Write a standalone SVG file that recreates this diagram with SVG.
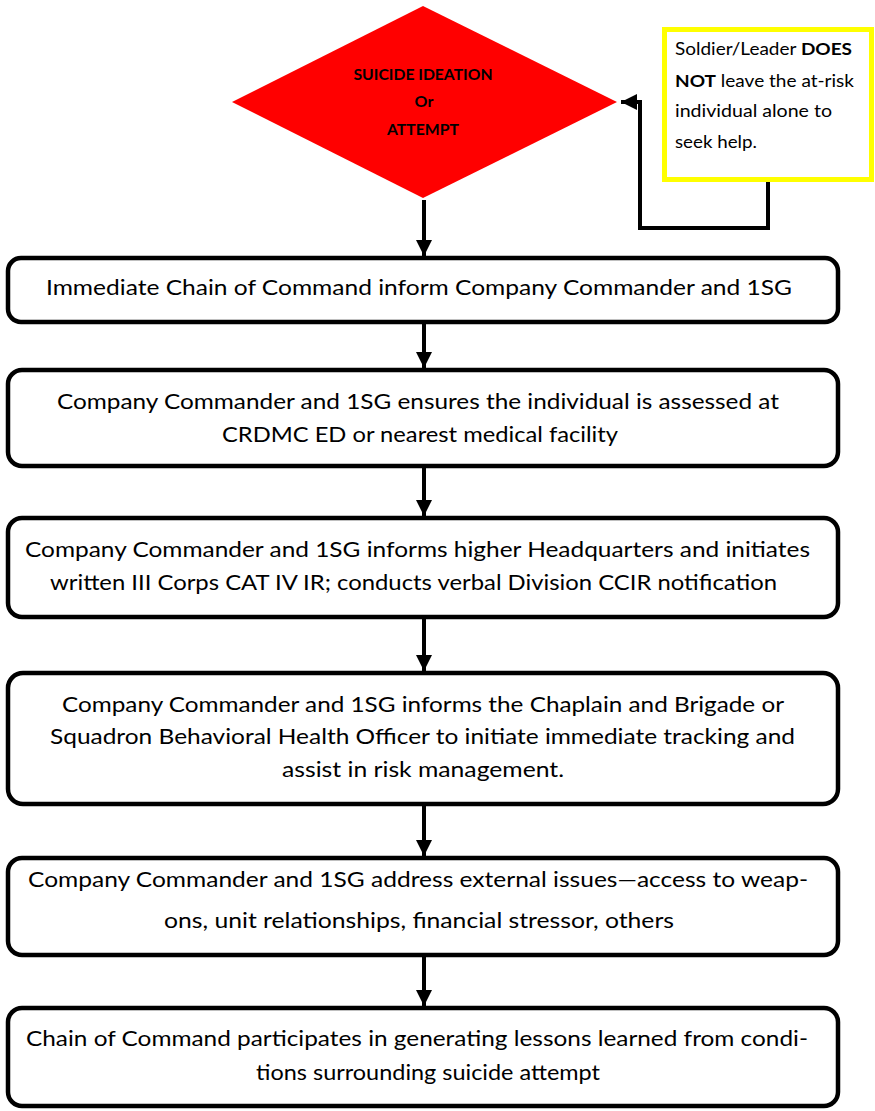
<svg xmlns="http://www.w3.org/2000/svg" width="875" height="1111" viewBox="0 0 875 1111">
<defs>
<style>
.box{fill:#fff;stroke:#000;stroke-width:4.5}
.t{font-family:Lato,"Open Sans","Liberation Sans",sans-serif;font-size:22px;fill:#000}
.d{font-family:Lato,"Open Sans","Liberation Sans",sans-serif;font-size:16px;font-weight:bold;fill:#000}
.y{font-family:Lato,"Open Sans","Liberation Sans",sans-serif;font-size:17.5px;fill:#000}
.c{fill:none;stroke:#000;stroke-width:4}
</style>
<marker id="ah" viewBox="0 0 10 10" refX="10" refY="5" markerWidth="4" markerHeight="4" markerUnits="strokeWidth" orient="auto">
<path d="M0,0 L10,5 L0,10 z" fill="#000"/>
</marker>
</defs>
<rect width="875" height="1111" fill="#fff"/>

<g id="connectors">
<path class="c" d="M424,200 V256" marker-end="url(#ah)"/>
<path class="c" d="M768,182 V228 H640 V102 H621" marker-end="url(#ah)"/>
<path class="c" d="M424,323 V368" marker-end="url(#ah)"/>
<path class="c" d="M424,468 V516" marker-end="url(#ah)"/>
<path class="c" d="M424,619 V671" marker-end="url(#ah)"/>
<path class="c" d="M424,806 V856" marker-end="url(#ah)"/>
<path class="c" d="M424,956 V1006" marker-end="url(#ah)"/>
</g>

<g id="decision">
<polygon points="423,6 617,102 423,198 232,102" fill="#ff0000"/>
<text class="d" x="423" y="80" text-anchor="middle" textLength="139" lengthAdjust="spacingAndGlyphs">SUICIDE IDEATION</text>
<text class="d" x="424" y="107" text-anchor="middle">Or</text>
<text class="d" x="423" y="135" text-anchor="middle" textLength="72" lengthAdjust="spacingAndGlyphs">ATTEMPT</text>
</g>

<g id="note">
<rect x="664.5" y="29.5" width="207" height="150" fill="#fff" stroke="#ffff00" stroke-width="5"/>
<text class="y" x="675" y="55" textLength="177" lengthAdjust="spacingAndGlyphs">Soldier/Leader <tspan font-weight="bold">DOES</tspan></text>
<text class="y" x="675" y="87" textLength="179" lengthAdjust="spacingAndGlyphs"><tspan font-weight="bold">NOT</tspan> leave the at-risk</text>
<text class="y" x="675" y="117" textLength="157" lengthAdjust="spacingAndGlyphs">individual alone to</text>
<text class="y" x="675" y="148" textLength="82" lengthAdjust="spacingAndGlyphs">seek help.</text>
</g>

<g id="step1">
<rect class="box" x="8" y="258" width="830" height="64" rx="13"/>
<text class="t" x="46" y="295" textLength="746" lengthAdjust="spacingAndGlyphs">Immediate Chain of Command inform Company Commander and 1SG</text>
</g>

<g id="step2">
<rect class="box" x="8" y="370" width="830" height="96" rx="14"/>
<text class="t" x="57" y="409" textLength="722" lengthAdjust="spacingAndGlyphs">Company Commander and 1SG ensures the individual is assessed at</text>
<text class="t" x="222" y="442" textLength="396" lengthAdjust="spacingAndGlyphs">CRDMC ED or nearest medical facility</text>
</g>

<g id="step3">
<rect class="box" x="8" y="518" width="830" height="99" rx="14"/>
<text class="t" x="25" y="557" textLength="785" lengthAdjust="spacingAndGlyphs">Company Commander and 1SG informs higher Headquarters and initiates</text>
<text class="t" x="50" y="590" textLength="727" lengthAdjust="spacingAndGlyphs">written III Corps CAT IV IR; conducts verbal Division CCIR notification</text>
</g>

<g id="step4">
<rect class="box" x="8" y="673" width="830" height="131" rx="15"/>
<text class="t" x="62" y="712" textLength="722" lengthAdjust="spacingAndGlyphs">Company Commander and 1SG informs the Chaplain and Brigade or</text>
<text class="t" x="50" y="744" textLength="745" lengthAdjust="spacingAndGlyphs">Squadron Behavioral Health Officer to initiate immediate tracking and</text>
<text class="t" x="282" y="777" textLength="282" lengthAdjust="spacingAndGlyphs">assist in risk management.</text>
</g>

<g id="step5">
<rect class="box" x="8" y="858" width="830" height="97" rx="14"/>
<text class="t" x="28" y="887" textLength="780" lengthAdjust="spacingAndGlyphs">Company Commander and 1SG address external issues—access to weap-</text>
<text class="t" x="164" y="928" textLength="510" lengthAdjust="spacingAndGlyphs">ons, unit relationships, financial stressor, others</text>
</g>

<g id="step6">
<rect class="box" x="8" y="1008" width="830" height="98" rx="14"/>
<text class="t" x="26" y="1046" textLength="782" lengthAdjust="spacingAndGlyphs">Chain of Command participates in generating lessons learned from condi-</text>
<text class="t" x="256" y="1080" textLength="344" lengthAdjust="spacingAndGlyphs">tions surrounding suicide attempt</text>
</g>
</svg>
